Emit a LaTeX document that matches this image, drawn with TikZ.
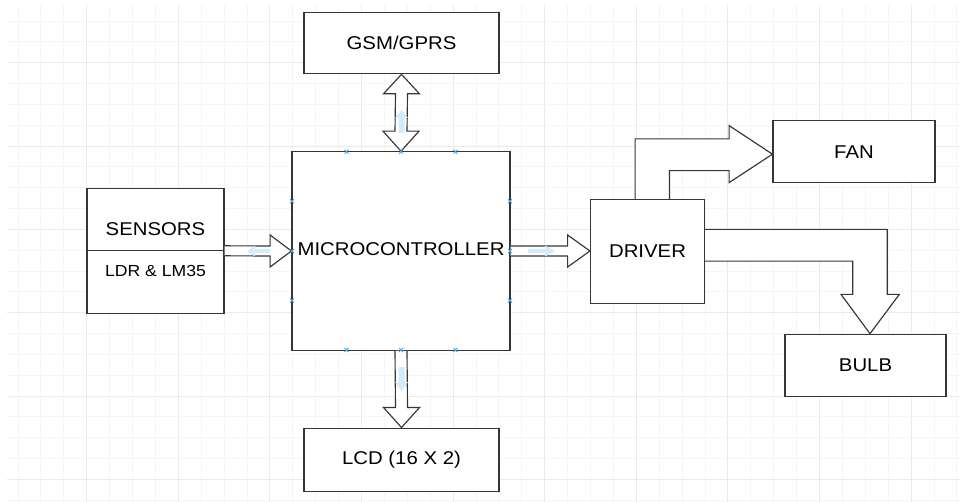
\documentclass[tikz,border=0pt]{standalone}
\usepackage{fontspec}
\setmainfont[FakeStretch=1.1]{Liberation Sans}
\usetikzlibrary{calc}
\definecolor{edge}{HTML}{363636}
\definecolor{gridminor}{HTML}{F5F5F5}
\definecolor{gridmajor}{HTML}{EAEAEA}
\definecolor{selblue}{HTML}{3FA9F5}
\definecolor{hintblue}{HTML}{D4EBFA}
\tikzset{
  box/.style={draw=edge, line width=1.15pt, fill=white, rectangle, inner sep=0pt,
              font=\fontsize{18.5}{22}\selectfont},
  fat/.style={draw=edge, line width=1.15pt, fill=white, line join=miter},
  hint/.style={fill=hintblue, draw=none},
  xmark/.style={draw=selblue, line width=0.9pt}
}
\begin{document}
\begin{tikzpicture}[x=1pt, y=-1pt]
\useasboundingbox (0,0) rectangle (960,502);
\fill[white] (0,0) rectangle (960,502);
% background grid
\foreach \i in {0,...,41} {
  \pgfmathsetmacro{\gx}{17.9+22.9*\i}
  \ifnum\i=3 \def\gc{gridmajor}\else\ifnum\numexpr\i-3-4*((\i-3)/4)\relax=0 \def\gc{gridmajor}\else\def\gc{gridminor}\fi\fi
  \draw[\gc, line width=0.8pt] (\gx,5) -- (\gx,502);
}
\foreach \j in {0,...,23} {
  \pgfmathsetmacro{\gy}{21+20.83*\j}
  \ifnum\numexpr\j-2-4*((\j-2)/4)\relax=0 \def\gc{gridmajor}\else\def\gc{gridminor}\fi
  \draw[\gc, line width=0.8pt] (7,\gy) -- (960,\gy);
}

% boxes
\node[box, minimum width=195pt, minimum height=61.5pt] (gsm) at (401.5,43) {GSM/GPRS};
\node[box, minimum width=218pt, minimum height=198.5pt] (mcu) at (401,251) {};
\node[box, minimum width=137pt, minimum height=125pt] (sens) at (155.5,250.8) {};
\node[box, minimum width=114pt, minimum height=104pt] (drv) at (647.5,251.5) {DRIVER};
\node[box, minimum width=162pt, minimum height=62pt] (fan) at (854,151.7) {FAN};
\node[box, minimum width=161pt, minimum height=62.5pt] (bulb) at (865.5,365.5) {BULB};
\node[box, minimum width=195pt, minimum height=63pt] (lcd) at (401.5,459.6) {LCD (16 X 2)};

\draw[edge, line width=1.15pt] (sens.west) -- (sens.east);
\node[font=\fontsize{18.5}{22}\selectfont] (senst) at ($(sens.center)+(0,-21.5)$) {SENSORS};
\node[font=\fontsize{16}{19}\selectfont] (sensl) at ($(sens.center)+(0,20)$) {LDR \& LM35};
\node[font=\fontsize{18.5}{22}\selectfont] (mcut) at ($(mcu.center)+(0,-2)$) {MICROCONTROLLER};

% GSM <-> MCU double arrow
\filldraw[fat] (gsm.south) -- ($(gsm.south)+(18,19.5)$) -- ($(gsm.south)+(6,19.5)$)
  -- ($(mcu.north)+(6,-20)$) -- ($(mcu.north)+(18,-20)$) -- (mcu.north)
  -- ($(mcu.north)+(-18,-20)$) -- ($(mcu.north)+(-6,-20)$)
  -- ($(gsm.south)+(-6,19.5)$) -- ($(gsm.south)+(-18,19.5)$) -- cycle;

% Sensors -> MCU
\filldraw[fat] ($(sens.east)+(0,-5)$) -- ($(mcu.west)+(-21.3,-5)$) -- ($(mcu.west)+(-21.3,-16)$)
  -- (mcu.west) -- ($(mcu.west)+(-21.3,16)$) -- ($(mcu.west)+(-21.3,5)$) -- ($(sens.east)+(0,5)$);

% MCU -> Driver
\filldraw[fat] ($(mcu.east)+(0,-5)$) -- ($(drv.west)+(-22.3,-5.5)$) -- ($(drv.west)+(-22.3,-16.5)$)
  -- ($(drv.west)+(0,-0.5)$) -- ($(drv.west)+(-22.3,15.5)$) -- ($(drv.west)+(-22.3,4.5)$) -- ($(mcu.east)+(0,5)$);

% MCU -> LCD
\filldraw[fat] ($(mcu.south)+(-6,0)$) -- ($(lcd.north)+(-6,-20)$) -- ($(lcd.north)+(-18,-20)$)
  -- (lcd.north) -- ($(lcd.north)+(18,-20)$) -- ($(lcd.north)+(6,-20)$) -- ($(mcu.south)+(6,0)$);

% Driver -> FAN (bent)
\coordinate (ft) at ($(fan.west)+(0,2.5)$);
\coordinate (a1) at ($(drv.north west)+(45.2,0)$);
\coordinate (a2) at ($(drv.north west)+(79.5,0)$);
\filldraw[fat] (a1) |- ($(ft)+(-43.3,-15.3)$) -- ($(ft)+(-43.3,-28.6)$) -- (ft)
  -- ($(ft)+(-43.3,28.4)$) -- ($(ft)+(-43.3,16.4)$) -| (a2);

% Driver -> BULB (bent)
\coordinate (bt) at ($(bulb.north)+(4.5,0)$);
\coordinate (b1) at ($(drv.north east)+(0,30.5)$);
\coordinate (b2) at ($(drv.north east)+(0,62.2)$);
\filldraw[fat] (b1) -| ($(bt)+(17.3,-39.3)$) -- ($(bt)+(29.3,-39.3)$) -- (bt)
  -- ($(bt)+(-29,-39.3)$) -- ($(bt)+(-17.3,-39.3)$) |- (b2);

% faint selection hints
\fill[hint] (398.5,133) -- (398.5,118) -- (395,118) -- (401.5,110) -- (408,118) -- (404.5,118) -- (404.5,133) -- cycle;
\fill[hint] (270,249) -- (255,249) -- (255,245.5) -- (247,251) -- (255,256.5) -- (255,253) -- (270,253) -- cycle;
\fill[hint] (528,249) -- (545,249) -- (545,245.5) -- (555,251) -- (545,256.5) -- (545,253) -- (528,253) -- cycle;
\fill[hint] (398.5,367) -- (398.5,382) -- (395,382) -- (401.5,391) -- (408,382) -- (404.5,382) -- (404.5,367) -- cycle;

% connection point marks
\foreach \px in {346.5,401,455.5} {
  \draw[xmark] (\px-2,149.7) -- (\px+2,153.7) (\px-2,153.7) -- (\px+2,149.7);
  \draw[xmark] (\px-2,348) -- (\px+2,352) (\px-2,352) -- (\px+2,348);
}
\foreach \py in {201.3,251,300.6} {
  \draw[xmark] (290,\py-2) -- (294,\py+2) (290,\py+2) -- (294,\py-2);
  \draw[xmark] (508,\py-2) -- (512,\py+2) (508,\py+2) -- (512,\py-2);
}
\end{tikzpicture}
\end{document}
